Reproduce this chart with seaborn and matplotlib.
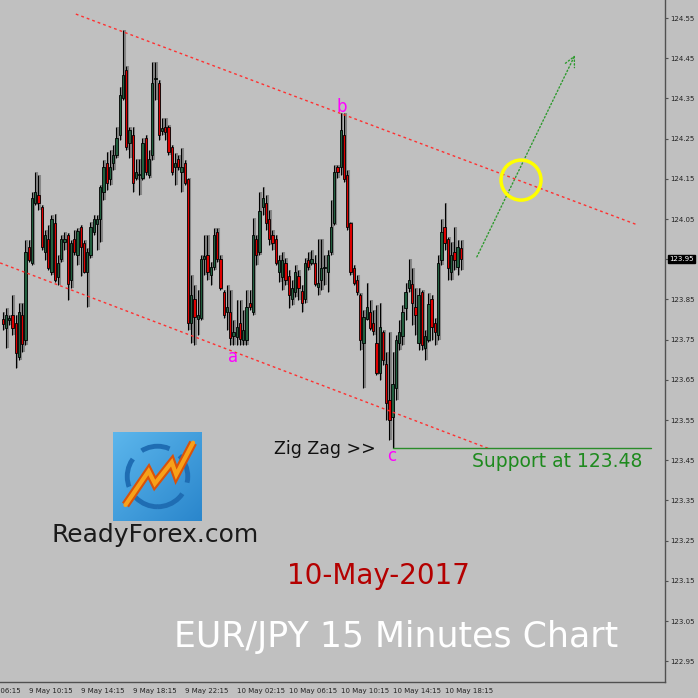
import numpy as np
import matplotlib
matplotlib.use("Agg")
import matplotlib.pyplot as plt
import seaborn as sns
from matplotlib.patches import Ellipse, Circle

# EUR/JPY 15 minute bars, first bar = 9 May 08:15
opens = [
    123.801, 123.779, 123.799, 123.811, 123.791, 123.707, 123.811, 123.749, 123.981, 123.941,
    124.090, 124.110, 124.080, 123.968, 124.000, 123.918, 124.040, 123.906, 123.951, 123.993,
    124.010, 123.898, 124.000, 123.961, 124.030, 123.990, 123.918, 123.961, 124.018, 124.038,
    124.050, 124.117, 124.190, 124.150, 124.190, 124.209, 124.259, 124.351, 124.421, 124.239,
    124.259, 124.152, 124.160, 124.152, 124.252, 124.160, 124.209, 124.399, 124.389, 124.269,
    124.279, 124.279, 124.229, 124.180, 124.199, 124.167, 124.190, 124.150, 123.791, 123.851,
    123.801, 123.804, 123.951, 123.961, 123.911, 123.931, 124.018, 123.951, 123.869, 123.819,
    123.819, 123.759, 123.757, 123.791, 123.749, 123.749, 123.841, 123.819, 124.000, 123.968,
    124.080, 124.090, 124.050, 124.010, 124.000, 123.918, 123.906, 123.941, 123.908, 123.851,
    123.869, 123.908, 123.871, 123.851, 123.948, 123.941, 123.941, 123.881, 123.898, 123.928,
    123.918, 123.968, 124.040, 124.180, 124.180, 124.259, 124.160, 124.040, 123.928, 123.898,
    123.861, 123.742, 123.801, 123.819, 123.791, 123.742, 123.667, 123.769, 123.690, 123.600,
    123.558, 123.630, 123.742, 123.759, 123.829, 123.879, 123.888, 123.831, 123.742, 123.869,
    123.729, 123.749, 123.851, 123.791, 123.762, 123.948, 124.030, 124.000, 123.918, 123.968,
    123.931, 123.978,
]
highs = [
    123.819, 123.829, 123.811, 123.861, 123.811, 123.841, 123.841, 123.998, 123.998, 124.117,
    124.167, 124.160, 124.085, 124.023, 124.035, 124.060, 124.063, 123.961, 124.010, 124.018,
    124.015, 123.998, 124.023, 124.028, 124.035, 123.998, 123.978, 124.043, 124.060, 124.060,
    124.135, 124.197, 124.217, 124.222, 124.234, 124.279, 124.379, 124.520, 124.431, 124.279,
    124.279, 124.199, 124.199, 124.252, 124.259, 124.222, 124.441, 124.441, 124.396, 124.301,
    124.301, 124.284, 124.234, 124.214, 124.209, 124.227, 124.197, 124.152, 123.911, 123.886,
    123.874, 123.961, 124.010, 124.010, 123.943, 124.028, 124.028, 123.961, 123.874, 123.886,
    123.874, 123.799, 123.849, 123.849, 123.824, 123.874, 123.874, 124.053, 124.010, 124.117,
    124.130, 124.110, 124.073, 124.023, 124.010, 123.961, 123.968, 123.953, 123.923, 123.898,
    123.936, 123.923, 123.886, 123.953, 123.968, 123.973, 123.961, 124.000, 124.000, 123.961,
    123.973, 124.097, 124.185, 124.185, 124.314, 124.314, 124.172, 124.043, 123.936, 123.911,
    123.866, 123.824, 123.891, 123.849, 123.824, 123.836, 123.841, 123.774, 123.719, 123.769,
    123.719, 123.762, 123.799, 123.836, 123.891, 123.951, 123.928, 123.879, 123.879, 123.874,
    123.774, 123.866, 123.861, 123.804, 123.961, 124.050, 124.090, 124.005, 123.993, 124.030,
    123.998, 123.998,
]
lows = [
    123.774, 123.729, 123.787, 123.762, 123.680, 123.699, 123.719, 123.737, 123.943, 123.936,
    124.085, 124.073, 123.973, 123.948, 123.923, 123.911, 123.893, 123.886, 123.943, 123.973,
    123.849, 123.879, 123.961, 123.936, 123.908, 123.916, 123.831, 123.953, 124.010, 123.973,
    123.993, 124.097, 124.122, 124.135, 124.172, 124.202, 124.247, 124.346, 124.222, 124.202,
    124.117, 124.147, 124.110, 124.147, 124.160, 124.152, 124.197, 124.346, 124.247, 124.259,
    124.247, 124.209, 124.160, 124.135, 124.172, 124.117, 124.135, 123.774, 123.742, 123.737,
    123.762, 123.799, 123.911, 123.898, 123.886, 123.923, 123.943, 123.874, 123.804, 123.774,
    123.737, 123.737, 123.737, 123.737, 123.737, 123.737, 123.824, 123.811, 123.936, 123.961,
    124.060, 124.023, 123.985, 123.973, 123.936, 123.893, 123.874, 123.886, 123.829, 123.836,
    123.856, 123.849, 123.819, 123.841, 123.923, 123.936, 123.883, 123.861, 123.874, 123.886,
    123.869, 123.961, 124.035, 124.152, 124.160, 124.142, 124.023, 123.911, 123.886, 123.861,
    123.724, 123.630, 123.799, 123.774, 123.762, 123.662, 123.650, 123.687, 123.550, 123.500,
    123.481, 123.600, 123.724, 123.737, 123.799, 123.869, 123.787, 123.762, 123.724, 123.724,
    123.699, 123.744, 123.749, 123.737, 123.749, 123.936, 123.973, 123.898, 123.898, 123.923,
    123.911, 123.923,
]
closes = [
    123.789, 123.811, 123.804, 123.779, 123.717, 123.819, 123.739, 123.968, 123.948, 124.102,
    124.117, 124.090, 123.981, 124.010, 123.928, 124.050, 123.898, 123.941, 124.000, 124.000,
    123.888, 123.990, 123.968, 124.020, 123.981, 123.918, 123.968, 124.030, 124.050, 124.050,
    124.130, 124.180, 124.140, 124.180, 124.209, 124.252, 124.359, 124.408, 124.229, 124.272,
    124.140, 124.167, 124.162, 124.239, 124.167, 124.199, 124.389, 124.401, 124.259, 124.277,
    124.267, 124.217, 124.167, 124.190, 124.180, 124.180, 124.140, 123.791, 123.861, 123.806,
    123.811, 123.951, 123.958, 123.918, 123.931, 124.010, 123.951, 123.879, 123.811, 123.831,
    123.754, 123.769, 123.782, 123.752, 123.774, 123.831, 123.831, 124.010, 123.961, 124.070,
    124.102, 124.040, 124.000, 123.990, 123.941, 123.948, 123.948, 123.898, 123.861, 123.879,
    123.918, 123.879, 123.841, 123.941, 123.931, 123.951, 123.888, 123.891, 123.928, 123.931,
    123.961, 124.030, 124.167, 124.167, 124.272, 124.150, 124.030, 123.918, 123.891, 123.869,
    123.749, 123.806, 123.831, 123.779, 123.772, 123.667, 123.782, 123.699, 123.593, 123.550,
    123.640, 123.749, 123.769, 123.819, 123.869, 123.898, 123.841, 123.811, 123.861, 123.737,
    123.759, 123.839, 123.782, 123.769, 123.941, 124.018, 123.990, 123.928, 123.961, 123.948,
    123.981, 123.951,
]

# time axis: bar index of each labelled tick (every 16 bars = 4 hours)
tick_bars = [-8, 8, 24, 40, 56, 72, 88, 104, 120, 136]
tick_labels = ["9 May 06:15", "9 May 10:15", "9 May 14:15", "9 May 18:15", "9 May 22:15",
               "10 May 02:15", "10 May 06:15", "10 May 10:15", "10 May 14:15", "10 May 18:15"]
price_ticks = [122.95, 123.05, 123.15, 123.25, 123.35, 123.45, 123.55, 123.65, 123.75,
               123.85, 123.95, 124.05, 124.15, 124.25, 124.35, 124.45, 124.55]

# analyst drawings (bar index, price)
channel_top = ([22.5, 195.5], [124.560, 124.035])
channel_bottom = ([-0.8, 149.9], [123.941, 123.478])
support_price = 123.48
support_bars = [120, 199.5]
zigzag_points = {"a": (70.9, 123.707), "b": (104.4, 124.329), "c": (119.8, 123.461)}
projection = ((145.9, 123.956), (176.1, 124.458))
circle_center = (159.5, 124.147)

BG = "#c0c0c0"
sns.set_theme(style="white", rc={"figure.facecolor": BG, "axes.facecolor": BG,
                                 "savefig.facecolor": BG})
plt.rcParams["font.family"] = ["DejaVu Sans"]

fig = plt.figure(figsize=(6.98, 6.98), dpi=100)
ax = fig.add_axes([0, 1 - 682 / 698, 665 / 698, 682 / 698])

x = np.arange(len(opens))
o = np.array(opens)
c = np.array(closes)
up = c >= o

# wick shadow + wicks
ax.vlines(x + 0.5, lows, highs, color="#7c7c7c", lw=1.5, alpha=0.85, zorder=1)
ax.vlines(x, lows, highs, color="black", lw=0.8, zorder=2)
body_lo = np.minimum(o, c)
body_h = np.maximum(np.abs(c - o), 0.0015)
ax.bar(x[up], body_h[up], bottom=body_lo[up], width=0.72, color="#22603f",
       edgecolor="black", linewidth=0.6, zorder=3)
ax.bar(x[~up], body_h[~up], bottom=body_lo[~up], width=0.72, color="#dd0000",
       edgecolor="black", linewidth=0.6, zorder=3)

ax.set_xlim(-0.83, 203.8)
ax.set_ylim(122.8985, 124.595)

# channel
ax.plot(*channel_top, color="#ff3030", lw=1, ls=(0, (2, 2.2)), zorder=4)
ax.plot(*channel_bottom, color="#ff3030", lw=1, ls=(0, (2, 2.2)), zorder=4)

# support
ax.plot(support_bars, [support_price, support_price], color="#2a8c2a", lw=1, zorder=4)
ax.text(144.4, 123.446, f"Support at {support_price:.2f}", color="#1e8a1e", fontsize=13.5,
        ha="left", va="center")
ax.text(114.9, 123.478, "Zig Zag >>", color="#111111", fontsize=12.5, ha="right", va="center")

for name, (bx, by) in zigzag_points.items():
    ax.text(bx, by, name, color="#ff00ff", fontsize=12, ha="center", va="center", zorder=5)

ax.annotate("", xy=projection[1], xytext=projection[0],
            arrowprops=dict(arrowstyle="->", color="#2e9a2e", lw=1, linestyle=":",
                            mutation_scale=18, shrinkA=0, shrinkB=0))
ax.add_patch(Ellipse(circle_center, width=12.3, height=0.0995, fill=False,
                     ec="#ffff00", lw=2.5, zorder=6))

# axes styling
for s in ["left", "top"]:
    ax.spines[s].set_visible(False)
for s in ["right", "bottom"]:
    ax.spines[s].set_color("#505050")
    ax.spines[s].set_linewidth(1)
ax.yaxis.tick_right()
ax.set_yticks(price_ticks)
ax.set_yticklabels([f"{p:.2f}" for p in price_ticks])
ax.set_xticks(tick_bars[1:])
ax.set_xticklabels(tick_labels[1:])
for lbl in ax.get_xticklabels():
    lbl.set_ha("left")
ax.tick_params(axis="both", which="both", direction="out", length=2.5, width=0.8,
               color="#505050", labelsize=5, labelcolor="#222222", pad=1.5)
# first label is cut by the left edge, as in the terminal screenshot
ax.annotate(tick_labels[0], xy=(tick_bars[0], 0), xycoords=("data", "axes fraction"),
            xytext=(0, -4.0), textcoords="offset points", ha="left", va="top",
            fontsize=5, color="#222222", annotation_clip=False)
ax.annotate(f"{closes[-1]:.2f}", xy=(1, closes[-1]), xycoords=("axes fraction", "data"),
            xytext=(3.2, 0), textcoords="offset points", ha="left", va="center",
            fontsize=5, color="white",
            bbox=dict(boxstyle="square,pad=0.2", fc="black", ec="black"))

# logo
lax = fig.add_axes([113 / 698, 1 - 521 / 698, 89 / 698, 89 / 698])
grad = np.linspace(0, 1, 100)
lax.imshow(np.add.outer(grad, grad[::-1]) / 2, cmap=matplotlib.colors.LinearSegmentedColormap.from_list(
    "logo", ["#2a86cc", "#5cb6ec"]), extent=(0, 1, 0, 1), origin="lower", aspect="auto")
lax.add_patch(Circle((0.5, 0.5), 0.34, fill=False, ec="#1f6db3", lw=3.5, ls=(0, (6, 2.5))))
zig = ([0.14, 0.40, 0.47, 0.66, 0.71, 0.90], [0.18, 0.56, 0.42, 0.66, 0.52, 0.88])
lax.plot(*zig, color="#d9520a", lw=6, solid_capstyle="butt", solid_joinstyle="miter")
lax.plot(*zig, color="#f7a11a", lw=3, solid_joinstyle="miter")
lax.set_xlim(0, 1)
lax.set_ylim(0, 1)
lax.axis("off")

fig.text(155 / 698, 1 - 535 / 698, "ReadyForex.com", fontsize=18, color="#1a1a1a",
         ha="center", va="center")
fig.text(378 / 698, 1 - 576 / 698, "10-May-2017", fontsize=20, color="#b40000",
         ha="center", va="center")
fig.text(396 / 698, 1 - 637 / 698, "EUR/JPY 15 Minutes Chart", fontsize=25, color="white",
         ha="center", va="center")

fig.savefig("out.png", dpi=100)
